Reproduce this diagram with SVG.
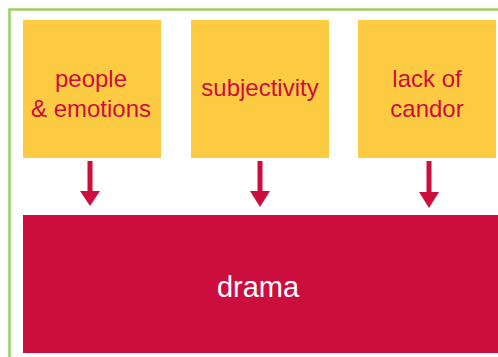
<svg xmlns="http://www.w3.org/2000/svg" width="498" height="357" viewBox="0 0 498 357">
<defs>
<style>
.frame{fill:none;stroke:#9ccf62;stroke-width:2.5}
.src{fill:#fdcb42}
.src-t{font-family:"Liberation Sans",Arial,sans-serif;font-size:24px;fill:#cc0e3f;text-anchor:middle}
.tgt{fill:#cc0e3f}
.tgt-t{font-family:"Liberation Sans",Arial,sans-serif;font-size:29px;fill:#ffffff;text-anchor:middle}
.conn{fill:#cc0e3f}
</style>
</defs>
<rect x="0" y="0" width="498" height="357" fill="#ffffff"/>
<path class="frame" d="M9.5,360 L9.5,9.5 L500,9.5"/>
<g id="node-people">
<rect class="src" x="23" y="20" width="138" height="138"/>
<text class="src-t" x="91" y="87">people</text>
<text class="src-t" x="91" y="117">&amp; emotions</text>
</g>
<g id="node-subjectivity">
<rect class="src" x="191" y="20" width="138" height="138"/>
<text class="src-t" x="260" y="96">subjectivity</text>
</g>
<g id="node-candor">
<rect class="src" x="358" y="20" width="138" height="138"/>
<text class="src-t" x="427" y="87">lack of</text>
<text class="src-t" x="427" y="117">candor</text>
</g>
<g id="node-drama">
<rect class="tgt" x="23" y="215" width="475" height="138"/>
<text class="tgt-t" x="258" y="297">drama</text>
</g>
<g id="connectors" class="conn">
<rect x="87.5" y="161" width="5" height="32"/>
<path d="M80,191 L100,191 L90,206 Z"/>
<rect x="257.5" y="161" width="5" height="32"/>
<path d="M250,191 L270,191 L260,207 Z"/>
<rect x="426.5" y="161" width="5" height="32"/>
<path d="M419,192 L439,192 L429,208 Z"/>
</g>
</svg>
